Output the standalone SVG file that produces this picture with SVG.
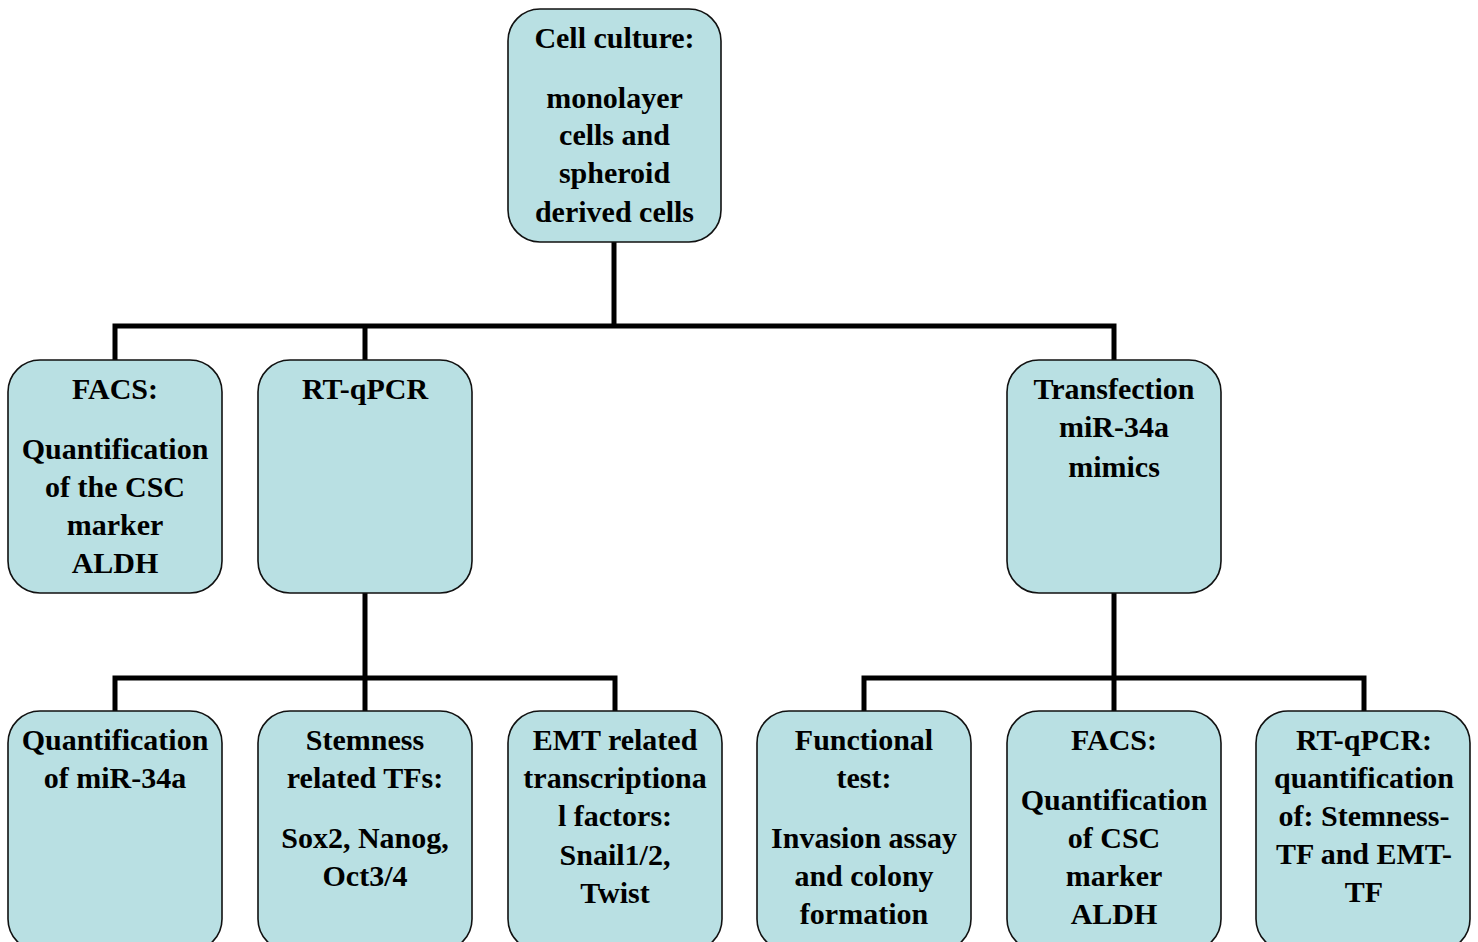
<svg xmlns="http://www.w3.org/2000/svg" width="1478" height="942" viewBox="0 0 1478 942">
<style>
.box{fill:#B9E0E3;stroke:#111;stroke-width:1.6}
.t{font-family:"Liberation Serif","Times New Roman",serif;font-weight:bold;font-size:30px;fill:#000;text-anchor:middle}
.c{fill:none;stroke:#000;stroke-width:5}
</style>
<rect width="1478" height="942" fill="#fff"/>
<g id="connectors">
<path class="c" d="M614,242V326M115,362V326H1114V362M365,326V362"/>
<path class="c" d="M365,593V678M115,713V678H615V713M365,678V713"/>
<path class="c" d="M1114,593V678M864,713V678H1364V713M1114,678V713"/>
</g>
<g id="cell-culture">
<rect class="box" x="508" y="9" width="213" height="233" rx="32"/>
<text class="t" x="614.5"><tspan x="614.5" y="48">Cell culture:</tspan><tspan x="614.5" y="108">monolayer</tspan><tspan x="614.5" y="145">cells and</tspan><tspan x="614.5" y="183">spheroid</tspan><tspan x="614.5" y="222">derived cells</tspan></text>
</g>
<g id="facs1">
<rect class="box" x="8" y="360" width="214" height="233" rx="32"/>
<text class="t"><tspan x="115" y="399">FACS:</tspan><tspan x="115" y="459">Quantification</tspan><tspan x="115" y="497">of the CSC</tspan><tspan x="115" y="535">marker</tspan><tspan x="115" y="573">ALDH</tspan></text>
</g>
<g id="rtqpcr">
<rect class="box" x="258" y="360" width="214" height="233" rx="32"/>
<text class="t"><tspan x="365" y="399">RT-qPCR</tspan></text>
</g>
<g id="transfection">
<rect class="box" x="1007" y="360" width="214" height="233" rx="32"/>
<text class="t"><tspan x="1114" y="399">Transfection</tspan><tspan x="1114" y="437">miR-34a</tspan><tspan x="1114" y="477">mimics</tspan></text>
</g>
<g id="quant-mir">
<rect class="box" x="8" y="711" width="214" height="240" rx="32"/>
<text class="t"><tspan x="115" y="750">Quantification</tspan><tspan x="115" y="788">of miR-34a</tspan></text>
</g>
<g id="stemness">
<rect class="box" x="258" y="711" width="214" height="240" rx="32"/>
<text class="t"><tspan x="365" y="750">Stemness</tspan><tspan x="365" y="788">related TFs:</tspan><tspan x="365" y="848">Sox2, Nanog,</tspan><tspan x="365" y="886">Oct3/4</tspan></text>
</g>
<g id="emt">
<rect class="box" x="508" y="711" width="214" height="240" rx="32"/>
<text class="t"><tspan x="615" y="750">EMT related</tspan><tspan x="615" y="788">transcriptiona</tspan><tspan x="615" y="826">l factors:</tspan><tspan x="615" y="865">Snail1/2,</tspan><tspan x="615" y="903">Twist</tspan></text>
</g>
<g id="functional">
<rect class="box" x="757" y="711" width="214" height="240" rx="32"/>
<text class="t"><tspan x="864" y="750">Functional</tspan><tspan x="864" y="788">test:</tspan><tspan x="864" y="848">Invasion assay</tspan><tspan x="864" y="886">and colony</tspan><tspan x="864" y="924">formation</tspan></text>
</g>
<g id="facs2">
<rect class="box" x="1007" y="711" width="214" height="240" rx="32"/>
<text class="t"><tspan x="1114" y="750">FACS:</tspan><tspan x="1114" y="810">Quantification</tspan><tspan x="1114" y="848">of CSC</tspan><tspan x="1114" y="886">marker</tspan><tspan x="1114" y="924">ALDH</tspan></text>
</g>
<g id="rtqpcr2">
<rect class="box" x="1256" y="711" width="214" height="240" rx="32"/>
<text class="t"><tspan x="1364" y="750">RT-qPCR:</tspan><tspan x="1364" y="788">quantification</tspan><tspan x="1364" y="826">of: Stemness-</tspan><tspan x="1364" y="864">TF and EMT-</tspan><tspan x="1364" y="902">TF</tspan></text>
</g>
</svg>
